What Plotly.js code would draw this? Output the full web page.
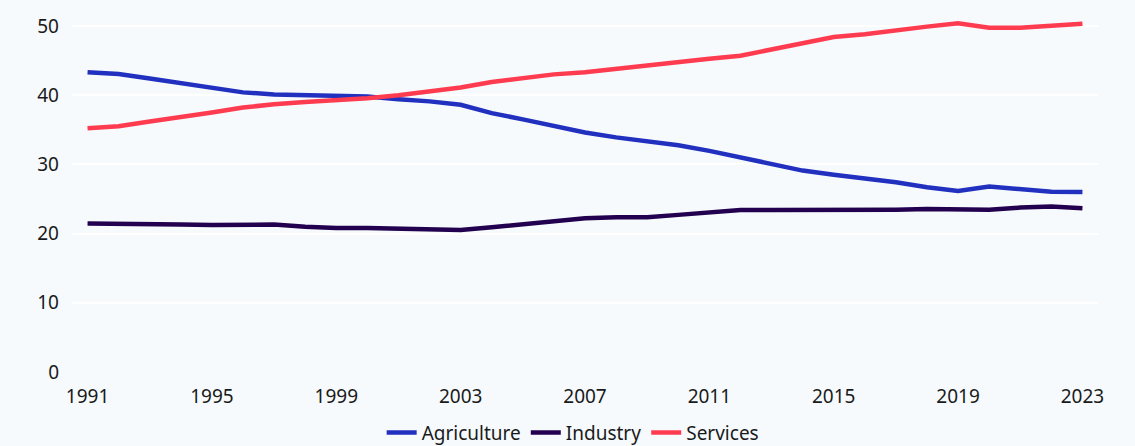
<!DOCTYPE html>
<html>
<head>
<meta charset="utf-8">
<script src="https://cdn.plot.ly/plotly-3.0.1.min.js"></script>
<style>
  html, body { margin: 0; padding: 0; background: #f6fafd; }
  #chart { width: 1135px; height: 446px; }
</style>
</head>
<body>
<div id="chart"></div>
<script>
const years = [1991,1992,1993,1994,1995,1996,1997,1998,1999,2000,2001,2002,2003,2004,2005,2006,2007,2008,2009,2010,2011,2012,2013,2014,2015,2016,2017,2018,2019,2020,2021,2022,2023];

const agriculture = [43.3,43.05,42.4,41.7,41.0,40.4,40.1,40.0,40.0,39.8,39.4,39.1,38.6,37.4,36.5,35.5,34.6,33.9,33.4,32.75,31.95,31.0,30.1,29.1,28.5,28.0,27.4,26.7,26.15,26.8,26.5,26.05,26.0];

const industry = [21.45,21.35,21.3,21.3,21.25,21.3,21.3,21.0,20.8,20.8,20.7,20.5,20.5,20.9,21.3,21.8,22.2,22.35,22.35,22.7,23.1,23.4,23.4,23.4,23.3,23.35,23.45,23.55,23.55,23.45,23.75,23.9,23.65];

const services = [35.2,35.5,36.2,36.8,37.5,38.2,38.7,39.0,39.2,39.55,40.0,40.6,41.1,41.9,42.4,43.0,43.3,43.8,44.4,44.75,45.25,45.7,46.6,47.5,48.4,48.8,49.4,49.9,50.4,49.75,49.75,50.1,50.3];

const xTicks = [1991,1995,1999,2003,2007,2011,2015,2019,2023];
const yTicks = [0,10,20,30,40,50];

const seriesNames = ['Agriculture','Industry','Services'];
const seriesColors = ['#2130bf','#22004f','#ff3b50'];
const seriesData = [agriculture, industry, services];

const traces = seriesData.map((vals, i) => ({
  type: 'scatter',
  mode: 'lines',
  x: years,
  y: vals,
  name: seriesNames[i],
  line: { color: seriesColors[i], width: 4.5 }
}));

const layout = {
  width: 1135,
  height: 446,
  paper_bgcolor: '#f6fafd',
  plot_bgcolor: '#f6fafd',
  font: { family: '"Noto Sans", sans-serif', size: 19, color: '#1a1a1a' },
  margin: { l: 72, r: 37, t: 19, b: 74, autoexpand: false },
  showlegend: true,
  legend: {
    orientation: 'h',
    xref: 'container',
    yref: 'container',
    x: 0.505,
    xanchor: 'center',
    y: 0.03,
    yanchor: 'middle',
    font: { size: 19, color: '#1a1a1a' },
    bgcolor: 'rgba(0,0,0,0)'
  },
  xaxis: {
    range: [1990.5, 2023.5],
    tickmode: 'array',
    tickvals: xTicks,
    ticktext: xTicks.map(String),
    showgrid: false,
    zeroline: false,
    showline: false,
    ticks: '',
    ticklabelstandoff: 11,
    tickfont: { size: 19, color: '#1a1a1a' }
  },
  yaxis: {
    range: [0, 51],
    tickmode: 'array',
    tickvals: yTicks,
    ticktext: yTicks.map(String),
    showgrid: true,
    gridcolor: '#ffffff',
    gridwidth: 2,
    zeroline: false,
    showline: false,
    ticks: '',
    ticklabelstandoff: 12,
    tickfont: { size: 19, color: '#1a1a1a' }
  }
};

Plotly.newPlot('chart', traces, layout, { displayModeBar: false, staticPlot: true });
</script>
</body>
</html>
